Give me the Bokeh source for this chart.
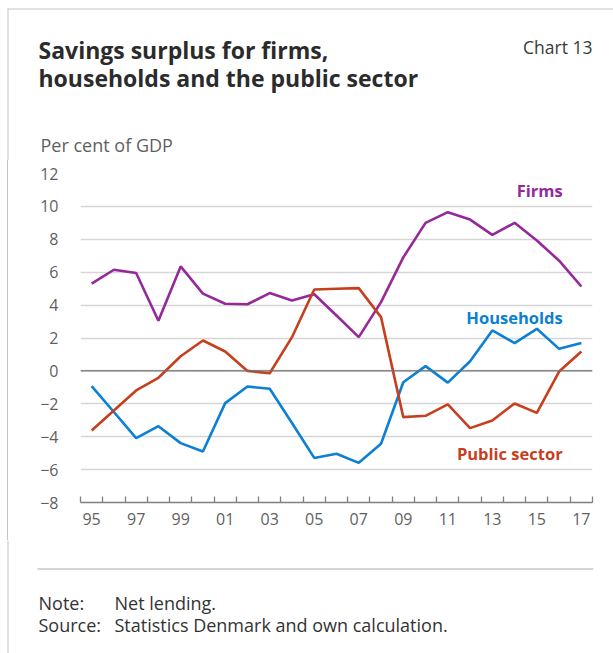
from bokeh.plotting import figure
from bokeh.models import Range1d, FixedTicker, Label, Span, Spacer
from bokeh.layouts import column, row
from bokeh.core.properties import value
from bokeh.embed import file_html
from bokeh.resources import INLINE

years = [1995, 1996, 1997, 1998, 1999, 2000, 2001, 2002, 2003, 2004, 2005, 2006,
         2007, 2008, 2009, 2010, 2011, 2012, 2013, 2014, 2015, 2016, 2017]
firms = [5.3, 6.15, 5.95, 3.05, 6.35, 4.7, 4.08, 4.05, 4.73, 4.28, 4.66, 3.37,
         2.05, 4.18, 6.9, 9.0, 9.65, 9.2, 8.27, 9.0, 7.93, 6.7, 5.13]
households = [-0.93, -2.5, -4.09, -3.36, -4.39, -4.9, -1.96, -0.95, -1.09, -3.17, -5.29, -5.04,
              -5.59, -4.43, -0.69, 0.29, -0.71, 0.59, 2.46, 1.69, 2.56, 1.34, 1.69]
public = [-3.62, -2.41, -1.19, -0.42, 0.89, 1.85, 1.18, 0.0, -0.14, 2.05, 4.95, 4.99,
          5.03, 3.27, -2.81, -2.73, -2.04, -3.48, -3.01, -1.98, -2.55, -0.04, 1.18]
tick_years = [1995, 1997, 1999, 2001, 2003, 2005, 2007, 2009, 2011, 2013, 2015, 2017]
tick_labels = ["95", "97", "99", "01", "03", "05", "07", "09", "11", "13", "15", "17"]
y_ticks = [-8, -6, -4, -2, 0, 2, 4, 6, 8, 10, 12]

FONT = "Open Sans"
PURPLE = "#95289B"
BLUE = "#0B80D4"
RED = "#C63F1E"
BORDER = "#c4c4c4"
W, H = 613, 653
HEAD_H, FOOT_H = 160, 113
CHART_H = H - HEAD_H - FOOT_H
LEFT_W = 8


def blank(width, height, x0, x1, y0, y1):
    f = figure(width=width, height=height, output_backend="svg", toolbar_location=None,
               x_range=Range1d(x0, x1), y_range=Range1d(y0, y1),
               x_axis_type=None, y_axis_type=None, min_border=0)
    f.outline_line_color = None
    f.grid.visible = False
    f.background_fill_color = "white"
    f.border_fill_color = "white"
    return f


def txt(f, x, y, text, size="18px", bold=False, color="#333333", align="left",
        baseline="middle"):
    f.text(x=[x], y=[y], text=[text], text_font=value(FONT), text_font_size=size,
           text_font_style="bold" if bold else "normal", text_color=color,
           text_align=align, text_baseline=baseline)


# ---------- header (canvas pixel coordinates, y downwards) ----------
head = blank(W, HEAD_H, 0, W, HEAD_H, 0)
head.line([7, W], [8.5, 8.5], line_color=BORDER, line_width=1)
head.line([7.5, 7.5], [8, HEAD_H], line_color=BORDER, line_width=1)
txt(head, 38, 49.5, "Savings surplus for firms,", size="23px", bold=True, color="#2b2b2b")
txt(head, 38, 77, "households and the public sector", size="23px", bold=True, color="#2b2b2b")
txt(head, 592, 46, "Chart 13", size="17.5px", color="#3a3a3a", align="right")
txt(head, 40, 144, "Per cent of GDP", color="#5f5f5f")

# ---------- chart ----------
p = figure(width=W - LEFT_W, height=CHART_H, output_backend="svg", toolbar_location=None,
           x_range=Range1d(1994.5, 2017.5), y_range=Range1d(-8, 12),
           min_border_left=80 - LEFT_W, min_border_right=21,
           min_border_top=173 - HEAD_H, min_border_bottom=HEAD_H + CHART_H - 502)
p.outline_line_color = None
p.background_fill_color = "white"
p.border_fill_color = "white"

p.yaxis.ticker = FixedTicker(ticks=y_ticks)
p.yaxis.axis_line_color = None
p.yaxis.major_tick_line_color = None
p.yaxis.minor_tick_line_color = None
p.yaxis.major_label_text_font = FONT
p.yaxis.major_label_text_font_size = "16px"
p.yaxis.major_label_text_color = "#5f5f5f"
p.yaxis.major_label_standoff = 16

boundaries = [y - 0.5 for y in years] + [years[-1] + 0.5]
p.xaxis.ticker = FixedTicker(ticks=tick_years, minor_ticks=boundaries)
p.xaxis.major_label_overrides = {t: l for t, l in zip(tick_years, tick_labels)}
p.xaxis.axis_line_color = "#808080"
p.xaxis.axis_line_width = 1.3
p.xaxis.major_tick_line_color = None
p.xaxis.major_tick_in = 0
p.xaxis.major_tick_out = 0
p.xaxis.minor_tick_line_color = "#808080"
p.xaxis.minor_tick_line_width = 1.3
p.xaxis.minor_tick_in = 6
p.xaxis.minor_tick_out = 0
p.xaxis.major_label_text_font = FONT
p.xaxis.major_label_text_font_size = "16px"
p.xaxis.major_label_text_color = "#5f5f5f"
p.xaxis.major_label_standoff = 10

p.xgrid.grid_line_color = None
p.ygrid.ticker = FixedTicker(ticks=y_ticks)
p.ygrid.grid_line_color = "#d6d6d6"
p.ygrid.grid_line_width = 1.3

p.add_layout(Span(location=0, dimension="width", line_color="#707070", line_width=1.3))

p.line(years, firms, line_color=PURPLE, line_width=2.6)
p.line(years, households, line_color=BLUE, line_width=2.6)
p.line(years, public, line_color=RED, line_width=2.6)

for label, yv, col in [("Firms", 10.97, PURPLE), ("Households", 3.25, BLUE),
                       ("Public sector", -5.02, RED)]:
    p.add_layout(Label(x=2016.16, y=yv, text=label, text_align="right",
                       text_baseline="middle", text_font=FONT, text_font_style="bold",
                       text_font_size="16.5px", text_color=col))

left = row(Spacer(width=7, height=CHART_H),
           Spacer(width=1, height=CHART_H, styles={"background-color": BORDER}),
           spacing=0)

# ---------- footer ----------
y_top = HEAD_H + CHART_H
foot = blank(W, FOOT_H, 0, W, H, y_top)
foot.line([7.5, 7.5], [y_top, H], line_color=BORDER, line_width=1)
foot.line([37, 593], [568.5, 568.5], line_color="#a8a8a8", line_width=1)
txt(foot, 38, 602, "Note:")
txt(foot, 114, 602, "Net lending.")
txt(foot, 38, 624, "Source:")
txt(foot, 114, 624, "Statistics Denmark and own calculation.")

layout = column(head, row(left, p, spacing=0), foot, spacing=0)
open("out.html", "w").write(file_html(layout, INLINE))
